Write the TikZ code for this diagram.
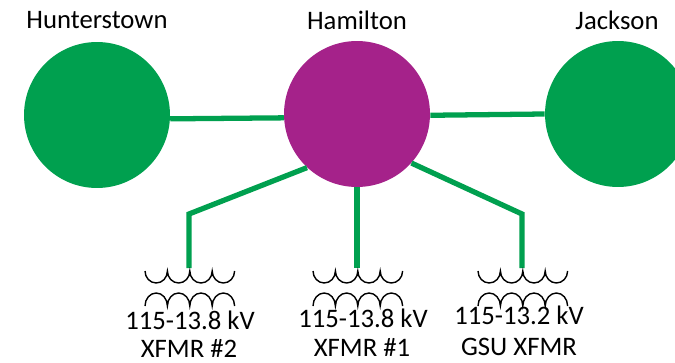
\documentclass[tikz,border=0pt]{standalone}
\usepackage{fontspec}
\setmainfont{Carlito}
\definecolor{busgreen}{HTML}{00A04F}
\definecolor{buspurple}{HTML}{A5228A}

\begin{document}
\begin{tikzpicture}
[x=0.02 cm, y=0.02 cm,
bus/.style={circle, draw=none, minimum size=2.92 cm, inner sep=0 pt},
feeder/.style={line width=3 pt, busgreen},
winding/.style={line width=0.8 pt, black},
txt/.style={font=\fontsize{15.2}{17}\selectfont, inner sep=0 pt, anchor=center}
]

\useasboundingbox (0,0) rectangle (675,362);

% substations
\node[bus, fill=busgreen] (Hu) at (97,247) {};
\node[bus, fill=buspurple] (Ha) at (357,248) {};
\node[bus, fill=busgreen] (Ja) at (618,248) {};

\node[txt] (HuL) at (97,342) {Hunterstown};
\node[txt] (HaL) at (357,342) {Hamilton};
\node[txt] (JaL) at (617,342) {Jackson};

% bends of the transformer feeders
\path
(189,148) coordinate (b2)
(189,94) coordinate (e2)
(357,94) coordinate (e1)
(522,148) coordinate (b3)
(522,94) coordinate (e3)
;

% feeders
\draw[feeder] (Hu.-3) -- (Ha.183);
\draw[feeder] (Ha.-1) -- (Ja.180);
\draw[feeder] (Ha.227) -- (b2) -- (e2);
\draw[feeder] (Ha.270) -- (e1);
\draw[feeder] (Ha.-42) -- (b3) -- (e3);

% transformer windings
\foreach \x in {145,313,478}
{
\draw[winding] (\x,91)
foreach \i in {1,...,4} {arc[start angle=180, end angle=360, x radius=11.2, y radius=12]};
\draw[winding] (\x,56)
foreach \i in {1,...,4} {arc[start angle=180, end angle=0, x radius=11.2, y radius=13]};
}

% transformer labels
\node[txt] (T2a) at (190,42) {115-13.8 kV};
\node[txt] (T2b) at (189,14) {XFMR \#2};
\node[txt] (T1a) at (363,44) {115-13.8 kV};
\node[txt] (T1b) at (362,15) {XFMR \#1};
\node[txt] (T3a) at (519,47) {115-13.2 kV};
\node[txt] (T3b) at (519,15) {GSU XFMR};

\end{tikzpicture}
\end{document}
